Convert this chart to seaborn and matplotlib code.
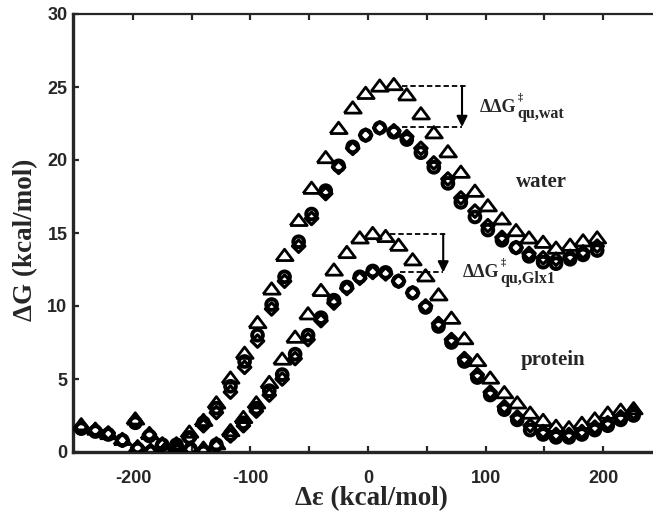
import matplotlib
matplotlib.use("Agg")
import matplotlib.pyplot as plt
import seaborn as sns
import pandas as pd

# Energy-gap grids (kcal/mol)
water_x = [-244, -232, -221, -209, -198, -186, -175, -163, -152, -140,
           -129, -117, -105, -94, -82, -71, -59, -48, -36, -25,
           -13, -2, 10, 22, 33, 45, 56, 68, 79, 91,
           102, 114, 126, 137, 149, 160, 172, 183, 195]
protein_x = [-196, -185, -173, -162, -151, -140, -129, -117, -106, -95,
             -84, -73, -62, -51, -40, -29, -18, -7, 4, 15,
             26, 38, 49, 60, 71, 82, 93, 104, 116, 127,
             138, 149, 160, 171, 182, 193, 204, 215, 226]

# Free energy profiles (kcal/mol)
water_tri = [1.9, 1.6, 1.3, 0.9, 2.3, 1.3, 0.6, 0.6, 1.4, 2.2,
             3.4, 5.1, 6.8, 8.9, 11.2, 13.5, 15.9, 18.1, 20.2, 22.2,
             23.6, 24.6, 25.1, 25.2, 24.5, 23.2, 21.9, 20.6, 19.2, 17.9,
             16.9, 16.0, 15.2, 14.7, 14.4, 14.0, 14.2, 14.5, 14.7]
water_circ = [1.6, 1.4, 1.2, 0.8, 2.0, 1.1, 0.5, 0.5, 1.0, 2.0,
              3.0, 4.5, 6.2, 8.0, 10.1, 12.0, 14.4, 16.3, 17.9, 19.6,
              20.9, 21.7, 22.2, 21.9, 21.4, 20.5, 19.5, 18.4, 17.1, 16.1,
              15.2, 14.5, 14.0, 13.4, 13.0, 12.9, 13.2, 13.5, 13.8]
water_diam = [1.7, 1.5, 1.3, 0.8, 2.1, 1.2, 0.5, 0.4, 0.9, 1.8,
              2.7, 4.1, 5.8, 7.6, 9.8, 11.7, 14.1, 16.0, 17.7, 19.5,
              20.8, 21.7, 22.2, 22.0, 21.6, 20.8, 19.8, 18.7, 17.4, 16.5,
              15.5, 14.7, 14.0, 13.6, 13.3, 13.2, 13.4, 13.7, 14.1]
protein_tri = [0.4, 0.1, 0.2, 0.2, 0.3, 0.3, 0.6, 1.5, 2.4, 3.4,
               4.8, 6.4, 7.9, 9.5, 11.1, 12.5, 13.7, 14.7, 15.0, 14.8,
               14.2, 13.2, 12.1, 10.8, 9.2, 7.8, 6.3, 5.1, 4.1, 3.4,
               2.7, 2.2, 1.8, 1.7, 2.0, 2.3, 2.7, 2.9, 3.0]
protein_circ = [0.2, 0.0, 0.0, 0.1, 0.2, 0.0, 0.5, 1.2, 2.0, 3.0,
                4.2, 5.3, 6.7, 8.0, 9.2, 10.4, 11.3, 12.0, 12.4, 12.3,
                11.7, 10.9, 9.9, 8.6, 7.5, 6.2, 5.1, 3.9, 2.9, 2.2,
                1.5, 1.2, 1.0, 1.0, 1.2, 1.5, 1.8, 2.2, 2.5]
protein_diam = [0.3, 0.1, 0.1, 0.2, 0.2, 0.1, 0.4, 1.1, 1.8, 2.8,
                3.9, 5.0, 6.4, 7.7, 9.0, 10.2, 11.2, 11.9, 12.3, 12.2,
                11.7, 10.9, 10.0, 8.8, 7.7, 6.4, 5.3, 4.1, 3.1, 2.4,
                1.8, 1.4, 1.2, 1.2, 1.4, 1.7, 2.0, 2.4, 2.7]

# Barrier tops and bottoms marked by the dashed guides
water_barrier = (25.07, 22.26)
protein_barrier = (14.9, 12.3)

x_ticks = [-200, -100, 0, 100, 200]
y_ticks = [0, 5, 10, 15, 20, 25, 30]

sns.set_style("ticks")
plt.rcParams["font.family"] = ["Liberation Sans", "DejaVu Sans"]
plt.rcParams["axes.unicode_minus"] = False

frames = []
for sys_name, xs, series in [
    ("water", water_x, {"tri": water_tri, "diam": water_diam, "circ": water_circ}),
    ("protein", protein_x, {"tri": protein_tri, "diam": protein_diam, "circ": protein_circ}),
]:
    for method, ys in series.items():
        frames.append(pd.DataFrame({"de": xs, "dG": ys, "method": method, "system": sys_name}))
df = pd.concat(frames, ignore_index=True)

fig = plt.figure(figsize=(6.53, 5.21), dpi=100)
ax = fig.add_axes([73 / 653, 1 - 452 / 521, 580 / 653, 438 / 521])

wide_tri = [(-1.5, -1.0), (1.5, -1.0), (0.0, 1.0), (-1.5, -1.0)]
styles = {
    "tri": dict(marker=wide_tri, s=150, linewidth=2.0),
    "diam": dict(marker="D", s=40, linewidth=2.3),
    "circ": dict(marker="o", s=60, linewidth=2.8),
}
for method in ["tri", "diam", "circ"]:
    sub = df[df["method"] == method]
    sns.scatterplot(data=sub, x="de", y="dG", ax=ax, facecolor="none",
                    edgecolor="black", legend=False, zorder=3, **styles[method])

# Dashed guides and arrows marking the barrier differences
dash = (0, (3, 1.6))
ax.plot([29, 84], [water_barrier[0]] * 2, color="black", lw=1.3, ls=dash)
ax.plot([29, 80], [water_barrier[1]] * 2, color="black", lw=1.3, ls=dash)
ax.annotate("", xy=(80, water_barrier[1]), xytext=(80, water_barrier[0]),
            arrowprops=dict(arrowstyle="-|>", color="black", lw=1.5, mutation_scale=16,
                            shrinkA=0, shrinkB=0))
ax.plot([19, 66], [protein_barrier[0]] * 2, color="black", lw=1.3, ls=dash)
ax.plot([27, 64], [protein_barrier[1]] * 2, color="black", lw=1.3, ls=dash)
ax.annotate("", xy=(64, protein_barrier[1]), xytext=(64, protein_barrier[0]),
            arrowprops=dict(arrowstyle="-|>", color="black", lw=1.5, mutation_scale=16,
                            shrinkA=0, shrinkB=0))

serif = ["Liberation Serif", "DejaVu Serif"]
renderer = fig.canvas.get_renderer()


def ddg_label(x0, y0, sub):
    main = ax.text(x0, y0, "ΔΔG", fontsize=13, fontweight="bold", family=serif,
                   ha="left", va="baseline")
    w_pt = main.get_window_extent(renderer).width * 72 / fig.dpi
    ax.annotate("‡", xy=(x0, y0), xytext=(w_pt + 0.8, 8.6), textcoords="offset points",
                fontsize=7.5, fontweight="bold", family=serif, ha="left", va="baseline")
    ax.annotate(sub, xy=(x0, y0), xytext=(w_pt + 0.8, -4.2), textcoords="offset points",
                fontsize=11.5, fontweight="bold", family=serif, ha="left", va="baseline")


ddg_label(95, 23.3, "qu,wat")
ddg_label(81, 12.0, "qu,Glx1")

ax.text(148, 18.5, "water", fontsize=15, fontweight="bold", family=serif,
        ha="center", va="center")
ax.text(157, 6.3, "protein", fontsize=15, fontweight="bold", family=serif,
        ha="center", va="center")

ax.set_xlim(-251, 242.5)
ax.set_ylim(0, 30)
ax.set_xticks(x_ticks)
ax.set_xticks([-150, -50, 50, 150], minor=True)
ax.set_yticks(y_ticks)
ax.set_xticklabels([str(t) for t in x_ticks])
ax.set_yticklabels([str(t) for t in y_ticks])

ax.tick_params(axis="both", which="both", direction="in", top=True, right=False,
               length=4, width=1.6, labelsize=13)
ax.tick_params(axis="x", which="both", pad=13)
ax.tick_params(axis="y", pad=4)
for lab in ax.get_xticklabels() + ax.get_yticklabels():
    lab.set_fontweight("heavy")

ax.spines["right"].set_visible(False)
ax.spines["left"].set_linewidth(2.4)
ax.spines["bottom"].set_linewidth(2.4)
ax.spines["top"].set_linewidth(1.6)

ax.set_xlabel("Δε (kcal/mol)", fontsize=19.5, fontweight="bold", family=serif)
ax.set_ylabel("ΔG (kcal/mol)", fontsize=19.5, fontweight="bold", family=serif)
ax.xaxis.set_label_coords((371 - 73) / 580, -0.078)
ax.yaxis.set_label_coords((38 - 73) / 580, 0.484)

fig.savefig("out.png", dpi=100)
